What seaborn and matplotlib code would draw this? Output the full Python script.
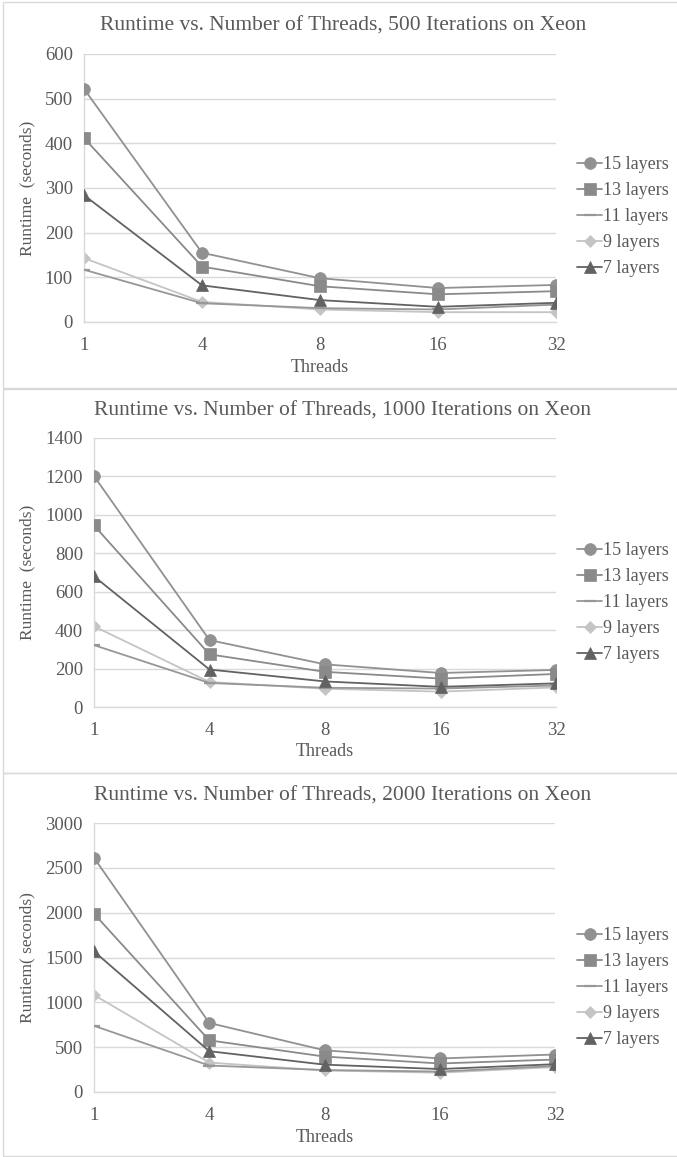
import matplotlib
matplotlib.use("Agg")
import matplotlib.pyplot as plt
import seaborn as sns
import pandas as pd
from matplotlib.patches import Rectangle

# ---------------- data ----------------
threads = ["1", "4", "8", "16", "32"]
layer_names = ["15 layers", "13 layers", "11 layers", "9 layers", "7 layers"]

titles = ["Runtime vs. Number of Threads, 500 Iterations on Xeon",
          "Runtime vs. Number of Threads, 1000 Iterations on Xeon",
          "Runtime vs. Number of Threads, 2000 Iterations on Xeon"]
ylabels = ["Runtime  (seconds)", "Runtime  (seconds)", "Runtiem( seconds)"]
xlabel = "Threads"
y_max = [600, 1400, 3000]
y_step = [100, 200, 500]

# 500 iterations
it500_l15 = [522, 155, 98, 76, 83]
it500_l13 = [412, 124, 80, 62, 69]
it500_l11 = [117, 42, 31, 28, 39]
it500_l9 = [143, 45, 28, 22, 22]
it500_l7 = [284, 82, 49, 34, 43]

# 1000 iterations
it1000_l15 = [1202, 348, 222, 177, 193]
it1000_l13 = [945, 274, 183, 148, 172]
it1000_l11 = [322, 125, 100, 96, 112]
it1000_l9 = [420, 130, 95, 80, 102]
it1000_l7 = [680, 195, 133, 105, 123]

# 2000 iterations
it2000_l15 = [2612, 770, 465, 374, 418]
it2000_l13 = [1988, 576, 395, 318, 362]
it2000_l11 = [738, 295, 245, 228, 290]
it2000_l9 = [1082, 328, 240, 215, 278]
it2000_l7 = [1568, 455, 305, 256, 310]

panels = [
    [it500_l15, it500_l13, it500_l11, it500_l9, it500_l7],
    [it1000_l15, it1000_l13, it1000_l11, it1000_l9, it1000_l7],
    [it2000_l15, it2000_l13, it2000_l11, it2000_l9, it2000_l7],
]

# ---------------- style ----------------
palette = {"15 layers": "#919191", "13 layers": "#8a8a8a", "11 layers": "#979797",
           "9 layers": "#c4c4c4", "7 layers": "#626262"}
markers = {"15 layers": "o", "13 layers": "s", "11 layers": "_",
           "9 layers": "D", "7 layers": "^"}
msizes = {"15 layers": 8.5, "13 layers": 8.5, "11 layers": 9, "9 layers": 5.8, "7 layers": 8.5}

sns.set_theme(style="white")
plt.rcParams["font.family"] = ["Liberation Serif", "DejaVu Serif"]
text_col = "#595959"
grid_col = "#d9d9d9"

W, H = 677, 1157
fig = plt.figure(figsize=(W / 100, H / 100), dpi=100)
fig.patch.set_facecolor("white")

# axes boxes in pixel coords: left, right, top, bottom
boxes = [(84, 556, 54, 322), (94, 556, 438, 707), (94, 555, 823, 1092)]
panel_frames = [(3, 2, 388), (3, 389, 773), (3, 773, 1156)]
title_y = [26, 411, 796]
xlabel_y = [367, 752, 1137]
ylabel_x = [27, 27, 27]
legend_top = [156, 542, 927]

for i in range(3):
    x0, top, bot = panel_frames[i]
    fig.patches.append(Rectangle((x0 / W, 1 - bot / H), (W + 10 - x0) / W, (bot - top) / H,
                                 transform=fig.transFigure, fill=False,
                                 edgecolor="#d9d9d9", linewidth=1.0, zorder=0))

    l, r, t, b = boxes[i]
    ax = fig.add_axes([l / W, 1 - b / H, (r - l) / W, (b - t) / H])
    ax.set_facecolor("none")

    rows = []
    for name, vals in zip(layer_names, panels[i]):
        for th, v in zip(threads, vals):
            rows.append({"Threads": th, "Runtime": v, "Layers": name})
    df = pd.DataFrame(rows)

    for name in layer_names:
        sub = df[df["Layers"] == name]
        sns.lineplot(data=sub, x="Threads", y="Runtime", ax=ax, color=palette[name],
                     marker=markers[name], markersize=msizes[name], linewidth=1.3,
                     markeredgecolor=palette[name],
                     markeredgewidth=1.6 if name == "11 layers" else 0.5,
                     label=name, sort=False, zorder=3 if name != "9 layers" else 2.5)

    ax.set_xlim(0, 4)
    ax.set_ylim(0, y_max[i])
    ax.set_yticks(range(0, y_max[i] + 1, y_step[i]))
    ax.yaxis.grid(True, color=grid_col, linewidth=1.0)
    ax.xaxis.grid(False)
    ax.set_axisbelow(True)
    for s in ["top", "right"]:
        ax.spines[s].set_visible(False)
    for s in ["left", "bottom"]:
        ax.spines[s].set_color(grid_col)
        ax.spines[s].set_linewidth(1.0)
    ax.tick_params(axis="both", length=0, labelsize=13.5, colors=text_col)
    ax.tick_params(axis="x", pad=11)
    ax.tick_params(axis="y", pad=8)
    ax.set_xlabel("")
    ax.set_ylabel("")

    fig.text(343 / W, 1 - title_y[i] / H, titles[i], ha="center", va="center",
             fontsize=15.5, color=text_col)
    fig.text(((l + r) / 2) / W, 1 - xlabel_y[i] / H, xlabel, ha="center", va="center",
             fontsize=13, color=text_col)
    fig.text(ylabel_x[i] / W, 1 - ((t + b) / 2) / H, ylabels[i], ha="center", va="center",
             rotation=90, fontsize=12.5, color=text_col)

    handles, labels = ax.get_legend_handles_labels()
    ax.get_legend().remove()
    fig.legend(handles, labels, loc="upper left",
               bbox_to_anchor=(577 / W, 1 - legend_top[i] / H),
               bbox_transform=fig.transFigure, frameon=False,
               fontsize=13, labelcolor=text_col, handlelength=1.4,
               handletextpad=0.05, labelspacing=0.5, borderaxespad=0, borderpad=0)

fig.savefig("out.png", dpi=100, facecolor="white")
